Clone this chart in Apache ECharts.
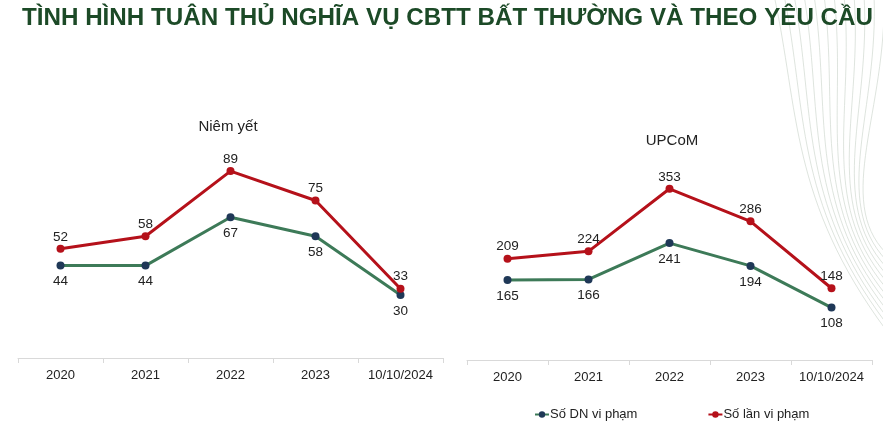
<!DOCTYPE html>
<html>
<head>
<meta charset="utf-8">
<script src="https://cdn.jsdelivr.net/npm/echarts@6/dist/echarts.min.js"></script>
<style>html,body{margin:0;padding:0;background:#fff}#c{width:883px;height:428px}</style>
</head>
<body>
<div id="c"></div>
<script>
const categories = ['2020', '2021', '2022', '2023', '10/10/2024'];
const niemYetDN = [44, 44, 67, 58, 30];
const niemYetLan = [52, 58, 89, 75, 33];
const upcomDN = [165, 166, 241, 194, 108];
const upcomLan = [209, 224, 353, 286, 148];
const seriesNames = ['Số DN vi phạm', 'Số lần vi phạm'];
const mainTitle = 'TÌNH HÌNH TUÂN THỦ NGHĨA VỤ CBTT BẤT THƯỜNG VÀ THEO YÊU CẦU';
const panelTitles = ['Niêm yết', 'UPCoM'];

const GREEN = '#3d7a58', NAVY = '#1f3857', RED = '#b5111a';

const chart = echarts.init(document.getElementById('c'), null, {renderer: 'canvas'});

// fit the condensed bold title into its width
const TITLE_FONT = 'bold 24px "Liberation Sans", Arial, sans-serif';
const ctx = document.createElement('canvas').getContext('2d');
ctx.font = TITLE_FONT;
const titleW = ctx.measureText(mainTitle).width;
const titleScale = 851 / titleW;

// decorative background curves (not data)
const deco = [];
for (let i = 0; i < 12; i++) {
  const x0 = 774 + i * 10;
  deco.push({
    type: 'bezierCurve', silent: true, z: -10,
    shape: {x1: x0, y1: -5, cpx1: x0 + 25 - i * 2, cpy1: 110, cpx2: 790 + i * 4, cpy2: 200, x2: 886, y2: 330 - i * 7},
    style: {stroke: '#cdd6cd', lineWidth: 1, fill: null, opacity: 0.65}
  });
}
deco.push({
  type: 'text', x: 22, y: 18, scaleX: titleScale, scaleY: 1, z: 10,
  style: {text: mainTitle, font: TITLE_FONT, fill: '#1c4a27', textAlign: 'left', textVerticalAlign: 'middle'}
});

function xAxisCfg(idx) {
  return {
    type: 'category', gridIndex: idx, data: categories, boundaryGap: true,
    axisLine: {lineStyle: {color: '#d9d9d9', width: 1}},
    axisTick: {show: true, length: 5, lineStyle: {color: '#d9d9d9'}},
    axisLabel: {color: '#222', fontSize: 13, margin: 11, interval: 0, fontFamily: 'Liberation Sans'}
  };
}
function yAxisCfg(idx, max) {
  return {type: 'value', gridIndex: idx, min: 0, max: max, show: false, splitLine: {show: false}};
}
function lineSeries(name, data, idx, lineColor, markColor, pos, dist) {
  return {
    name: name, type: 'line', xAxisIndex: idx, yAxisIndex: idx, data: data,
    symbol: 'circle', symbolSize: 8,
    lineStyle: {color: lineColor, width: 3},
    itemStyle: {color: markColor},
    label: {show: true, position: pos, distance: dist, color: '#222', fontSize: 13.5, fontFamily: 'Liberation Sans'},
    emphasis: {disabled: true}, animation: false
  };
}

chart.setOption({
  backgroundColor: '#ffffff',
  animation: false,
  graphic: deco,
  title: [
    {text: panelTitles[0], left: 223, top: 114, textAlign: 'center',
     textStyle: {color: '#222', fontSize: 15, fontWeight: 'normal', fontFamily: 'Liberation Sans'}},
    {text: panelTitles[1], left: 667, top: 128, textAlign: 'center',
     textStyle: {color: '#222', fontSize: 15, fontWeight: 'normal', fontFamily: 'Liberation Sans'}}
  ],
  legend: {
    data: seriesNames, left: 529, top: 403, itemWidth: 14, itemHeight: 8, itemGap: 70,
    textStyle: {color: '#222', fontSize: 13, fontFamily: 'Liberation Sans', padding: [0, 0, 0, -4]}
  },
  grid: [
    {left: 18, right: 440, top: 148, bottom: 70},
    {left: 467, right: 11, top: 166, bottom: 68}
  ],
  xAxis: [xAxisCfg(0), xAxisCfg(1)],
  yAxis: [yAxisCfg(0, 100), yAxisCfg(1, 400)],
  series: [
    lineSeries(seriesNames[0], niemYetDN, 0, GREEN, NAVY, 'bottom', 5),
    lineSeries(seriesNames[1], niemYetLan, 0, RED, RED, 'top', 1),
    lineSeries(seriesNames[0], upcomDN, 1, GREEN, NAVY, 'bottom', 5),
    lineSeries(seriesNames[1], upcomLan, 1, RED, RED, 'top', 1)
  ]
});
</script>
</body>
</html>
